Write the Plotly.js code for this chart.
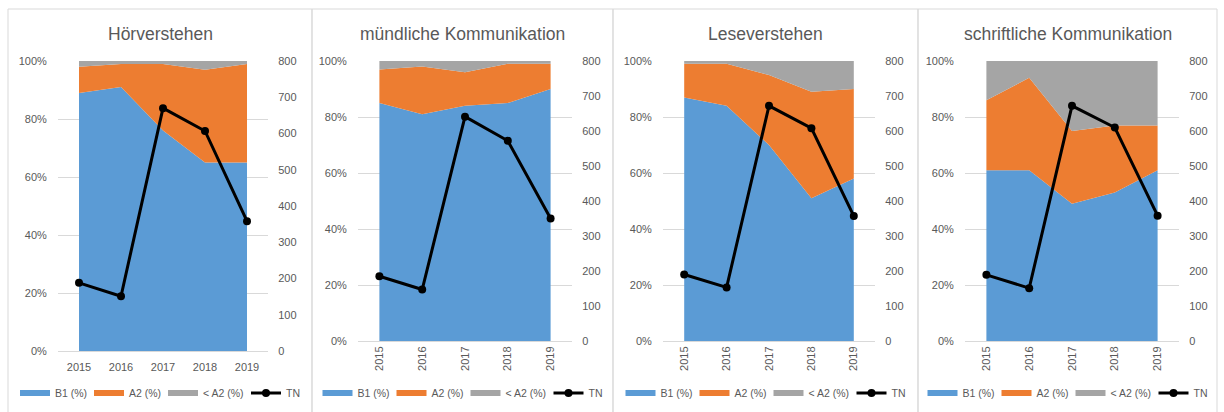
<!DOCTYPE html>
<html><head><meta charset="utf-8">
<script src="https://cdn.plot.ly/plotly-3.0.1.min.js"></script>
<style>html,body{margin:0;padding:0;background:#fff}#chart{width:1224px;height:412px}</style>
</head><body><div id="chart"></div>
<script>
const years = ['2015','2016','2017','2018','2019'];
const titles = ['Hörverstehen','mündliche Kommunikation','Leseverstehen','schriftliche Kommunikation'];
const seriesNames = ['B1 (%)','A2 (%)','< A2 (%)','TN'];

const horB1 = [89, 91, 76, 65, 65];
const horA2 = [9, 8, 23, 32, 34];
const horLt = [2, 1, 1, 3, 1];
const horTN = [188, 151, 670, 607, 358];

const muendB1 = [85, 81, 84, 85, 90];
const muendA2 = [12, 17, 12, 14, 9];
const muendLt = [3, 2, 4, 1, 1];
const muendTN = [185, 147, 641, 572, 350];

const leseB1 = [87, 84, 70, 51, 58];
const leseA2 = [12, 15, 25, 38, 32];
const leseLt = [1, 1, 5, 11, 10];
const leseTN = [190, 153, 672, 608, 357];

const schrB1 = [61, 61, 49, 53, 61];
const schrA2 = [25, 33, 26, 24, 16];
const schrLt = [14, 6, 25, 23, 23];
const schrTN = [189, 151, 672, 610, 358];

const panels = [
  [horB1, horA2, horLt, horTN],
  [muendB1, muendA2, muendLt, muendTN],
  [leseB1, leseA2, leseLt, leseTN],
  [schrB1, schrA2, schrLt, schrTN]
];

const W = 1224, H = 412;
const FONT = 'Liberation Sans, Arial, sans-serif';
const GREY = '#595959';
const GRID = '#D9D9D9';
const colors = ['#5B9BD5', '#ED7D31', '#A5A5A5'];
const boxes = [[8,312],[312,613],[613,918],[918,1217]];
const plotX = [[58,268],[358,572],[663,875],[965,1179]];
const plotTop = 61;
const plotBottom = [351,341,341,341];
const legendSwatchOffsets = [0, 74, 148, 231];
const legendHalfWidth = 140;

const data = [];
const layout = {
  width: W, height: H,
  margin: {l:0, r:0, t:0, b:0},
  paper_bgcolor: '#fff', plot_bgcolor: '#fff',
  hovermode: false,
  font: {family: FONT, color: GREY, size: 11},
  showlegend: true,
  shapes: [], annotations: []
};

let legendCount = 0;
function nextLegend(px) {
  legendCount++;
  const key = legendCount === 1 ? 'legend' : 'legend' + legendCount;
  layout[key] = {
    orientation: 'h', x: px / W, xanchor: 'left',
    y: (H - 393) / H, yanchor: 'middle', bgcolor: 'rgba(0,0,0,0)', borderwidth: 0,
    font: {family: FONT, size: 10.5, color: GREY}, itemwidth: 30
  };
  return key;
}

panels.forEach((p, i) => {
  const n = i + 1;
  const xa = n === 1 ? 'x' : 'x' + n;
  const yl = n === 1 ? 'y' : 'y' + (2*i + 1);
  const yr = 'y' + (2*i + 2);
  const center = (boxes[i][0] + boxes[i][1]) / 2;
  const legStart = center - legendHalfWidth;
  for (let k = 0; k < 3; k++) {
    data.push({
      type: 'scatter', x: years, y: p[k], name: seriesNames[k],
      xaxis: xa, yaxis: yl, stackgroup: 'g' + n, mode: 'none',
      fillcolor: colors[k], line: {width: 0},
      legend: nextLegend(legStart + legendSwatchOffsets[k] - 5)
    });
  }
  data.push({
    type: 'scatter', x: years, y: p[3], name: seriesNames[3],
    xaxis: xa, yaxis: yr, mode: 'lines+markers',
    line: {color: '#000', width: 3}, marker: {color: '#000', size: 8},
    legend: nextLegend(legStart + legendSwatchOffsets[3] - 5)
  });
  const xd = [plotX[i][0]/W, plotX[i][1]/W];
  const yd = [(H - plotBottom[i])/H, (H - plotTop)/H];
  const xKey = n === 1 ? 'xaxis' : 'xaxis' + n;
  const ylKey = n === 1 ? 'yaxis' : 'yaxis' + (2*i + 1);
  const yrKey = 'yaxis' + (2*i + 2);
  layout[xKey] = {
    domain: xd, anchor: yl, type: 'category', range: [-0.5, 4.5],
    showline: true, linecolor: GRID, linewidth: 1, showgrid: false, zeroline: false,
    ticks: n === 1 ? 'outside' : '', ticklen: 6, tickcolor: 'rgba(0,0,0,0)',
    tickangle: n === 1 ? 0 : -90,
    tickfont: {family: FONT, size: 11, color: GREY}, fixedrange: true
  };
  layout[ylKey] = {
    domain: yd, anchor: xa, range: [0, 100], dtick: 20, ticksuffix: '%',
    showgrid: true, gridcolor: GRID, gridwidth: 1, zeroline: false, showline: false,
    ticks: 'outside', ticklen: 8, tickcolor: 'rgba(0,0,0,0)',
    tickfont: {family: FONT, size: 11, color: GREY}, fixedrange: true
  };
  layout[yrKey] = {
    overlaying: yl, side: 'right', anchor: xa, range: [0, 800], dtick: 100,
    showgrid: false, zeroline: false, showline: false,
    ticks: 'outside', ticklen: 7, tickcolor: 'rgba(0,0,0,0)',
    tickfont: {family: FONT, size: 11, color: GREY}, fixedrange: true
  };
  layout.shapes.push({
    type: 'rect', xref: 'paper', yref: 'paper',
    x0: boxes[i][0]/W, x1: boxes[i][1]/W, y0: -0.05, y1: (H - 9)/H,
    line: {color: GRID, width: 1}, fillcolor: 'rgba(0,0,0,0)'
  });
  layout.annotations.push({
    text: titles[i], xref: 'paper', yref: 'paper',
    x: center / W, y: (H - 34)/H,
    xanchor: 'center', yanchor: 'middle', showarrow: false,
    font: {family: FONT, size: 17.5, color: GREY}
  });
});

Plotly.newPlot('chart', data, layout, {staticPlot: true, displayModeBar: false});
</script>
</body></html>
